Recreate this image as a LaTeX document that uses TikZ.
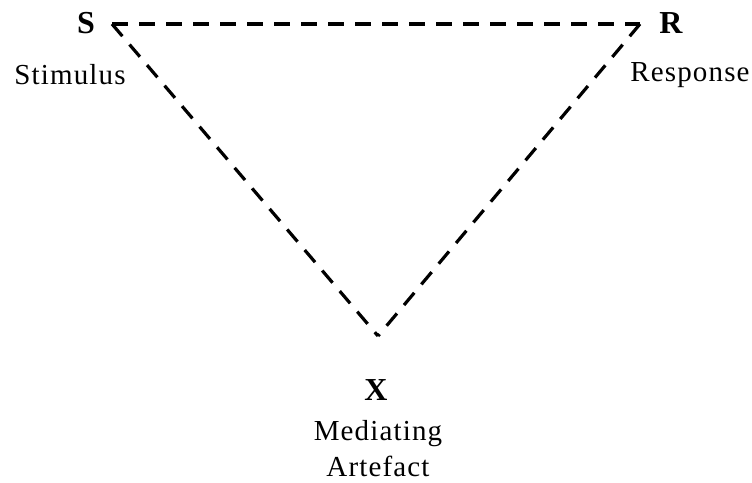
\documentclass[tikz,border=0pt]{standalone}
\usepackage{fontspec}
\setmainfont{Liberation Serif}
\newfontfamily\spaced[LetterSpace=4]{Liberation Serif}
\begin{document}
\begin{tikzpicture}[x=1pt,y=-1pt,
  letter/.style={inner sep=0pt,anchor=base,font=\fontsize{32}{38}\selectfont\bfseries},
  caption/.style={inner sep=0pt,anchor=base,font=\fontsize{29}{34}\selectfont\spaced},
  link/.style={line width=3.2pt,dash pattern=on 16pt off 11pt}]
\useasboundingbox (0,0) rectangle (752,482);
\coordinate (vs) at (112,24);
\coordinate (vr) at (640,24);
\coordinate (vx) at (378,336);
\node[letter] (S) at (86,33) {S};
\node[letter] (R) at (671,33) {R};
\node[letter] (X) at (376,400) {X};
\node[caption] (stim) at (70,84) {Stimulus};
\node[caption] (resp) at (690,81) {Response};
\node[caption] (med) at (378,440) {Mediating};
\node[caption] (art) at (378,476) {Artefact};
\draw[link] (vs) -- (vr);
\draw[link] (vr) -- (vx);
\draw[link] (vs) -- (vx);
\end{tikzpicture}
\end{document}
